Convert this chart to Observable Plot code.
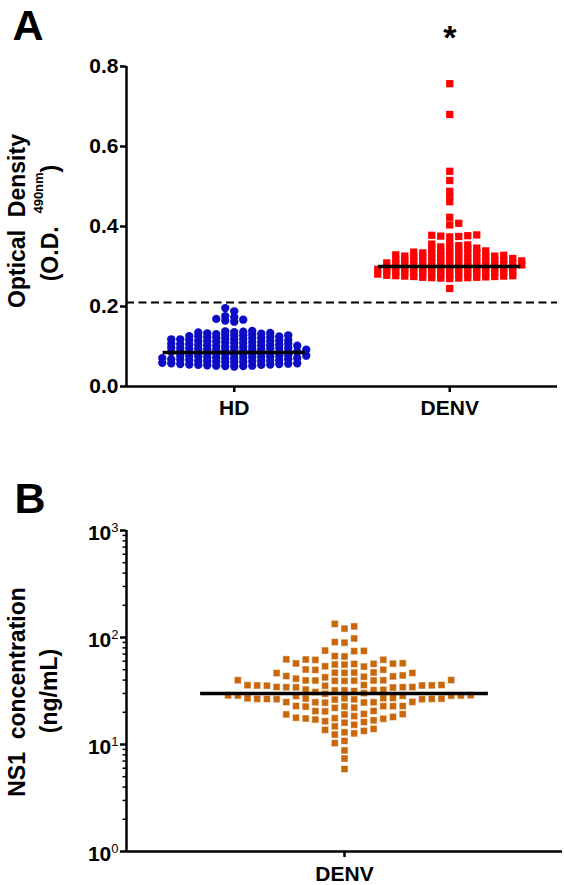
<!DOCTYPE html>
<html><head><meta charset="utf-8">
<script src="https://cdn.jsdelivr.net/npm/d3@7"></script>
<script src="https://cdn.jsdelivr.net/npm/@observablehq/plot@0.6"></script>
<style>
body{margin:0;background:#fff;}
#chart{width:564px;}
svg{display:block;}
</style></head><body><div id="chart"></div>
<script>
// ---------- Panel A data ----------
const groupsA = ["HD", "DENV"];
const hdValues = [
  0.050,0.051,0.052,0.053,0.054,0.055,0.056,0.057,0.058,0.059,0.052,0.054,0.056,0.058,0.051,0.055,
  0.060,0.061,0.062,0.063,0.064,0.065,0.066,0.067,0.068,0.069,0.062,0.064,0.066,0.068,0.063,
  0.070,0.071,0.072,0.073,0.074,0.075,0.076,0.077,0.078,0.079,0.071,0.073,0.075,0.077,0.072,0.076,
  0.080,0.081,0.082,0.083,0.084,0.085,0.086,0.087,0.088,0.089,0.081,0.083,0.085,0.087,0.084,
  0.090,0.091,0.092,0.093,0.094,0.095,0.096,0.097,0.098,0.099,0.091,0.093,0.095,0.097,0.092,0.096,
  0.100,0.101,0.102,0.103,0.104,0.105,0.106,0.107,0.108,0.109,0.101,0.103,0.105,0.107,0.104,
  0.110,0.111,0.112,0.113,0.114,0.115,0.116,0.117,0.118,0.119,0.112,0.114,0.116,0.118,
  0.120,0.121,0.122,0.123,0.124,0.125,0.126,0.127,0.128,0.129,0.122,0.125,0.128,
  0.130,0.131,0.132,0.133,0.134,0.135,0.136,0.137,0.138,0.139,
  0.162,0.165,0.167,0.169,0.173,0.176,0.188,0.196
];
const denvValues = [
  0.245,
  0.270,0.271,0.272,0.273,0.274,0.275,0.276,0.277,0.278,0.279,0.271,0.273,0.275,0.277,0.272,0.276,
  0.280,0.281,0.282,0.283,0.284,0.285,0.286,0.287,0.288,0.289,0.281,0.283,0.285,0.287,0.282,0.286,
  0.290,0.291,0.292,0.293,0.294,0.295,0.296,0.297,0.298,0.299,0.291,0.293,0.295,0.297,0.292,0.296,
  0.300,0.301,0.302,0.303,0.304,0.305,0.306,0.307,0.308,0.309,0.301,0.303,0.305,0.307,0.302,0.306,
  0.310,0.311,0.312,0.313,0.314,0.315,0.316,0.317,0.318,0.319,0.311,0.313,0.315,0.317,0.314,
  0.320,0.321,0.322,0.323,0.324,0.325,0.326,0.327,0.328,0.329,0.322,0.324,0.326,0.328,
  0.331,0.332,0.333,0.334,0.335,0.336,0.337,0.338,0.339,
  0.341,0.343,0.345,0.346,0.348,0.349,
  0.352,0.354,0.356,0.358,
  0.374,0.375,0.376,0.377,0.378,0.379,
  0.404,0.408,0.423,0.462,0.475,0.488,0.515,0.538,0.680,0.757
];
const mediansA = [0.085, 0.30];
const cutoffA = 0.21;
const ticksA = [0, 0.2, 0.4, 0.6, 0.8];
const sigLabels = [{group: "DENV", label: "*"}];

// ---------- Panel B data ----------
const groupsB = ["DENV"];
const ns1Values = [
  5.9, 7.4, 8.8, 10.3, 10.8,
  12.4, 12.7, 13.0, 13.4, 13.7, 14.0, 14.8, 15.3,
  16.0, 16.2, 16.5, 16.8, 17.1, 17.4, 17.5, 17.6, 17.8, 18.1, 18.4,
  19.1, 19.1, 19.2, 19.3, 20.4, 20.5, 20.6,
  22.0, 22.1, 22.6, 22.7, 22.8, 22.8, 22.9, 22.9,
  24.6, 24.7, 24.8, 24.8, 24.9, 25.0,
  26.3, 26.4, 26.5, 26.5, 26.6, 26.7, 26.7, 26.8, 26.9, 27.0, 27.0, 27.1, 27.2,
  28.4, 28.5, 28.6, 28.7, 28.7, 28.8, 28.9, 29.8,
  30.2, 31.0, 31.6, 32.0, 32.1, 32.2, 32.4, 32.6,
  34.1, 34.2, 34.3, 34.3, 34.4, 34.5, 35.4, 35.5, 35.6, 35.6, 35.7, 35.8, 35.9, 36.0,
  39.3, 39.4, 39.5, 39.6, 39.6, 39.7, 39.8, 39.9, 40.0,
  41.2, 42.4, 43.0, 43.3, 43.6, 44.2,
  46.5, 46.6, 46.8, 46.9, 47.0, 47.1,
  49.8, 50.0, 50.2,
  53.5, 53.8, 55.8, 56.0, 56.6, 56.8, 57.0, 57.2, 57.4,
  61.8, 62.0, 62.3, 62.5,
  66.5, 67.0,
  74.5, 75.0, 75.5,
  89.5, 90.5, 98,
  121, 127, 134
];
const medianB = 30;
const ticksB = [1, 10, 100, 1000];

const FONT = "'Liberation Sans', Arial, Helvetica, sans-serif";
const COLORS = {HD: "#0c0cc4", DENV: "#ff0000", NS1: "#c8680a"};

// GraphPad-like scatter: each point goes to the column nearest the centre
// where it does not come closer than `thr` pixels (vertically) to another point.
function swarmLayout(values, group, center, step, thr, toPx) {
  const sorted = values.slice().sort(d3.ascending);
  const slots = new Map();
  const out = [];
  sorted.forEach((v, n) => {
    const p = toPx(v);
    const side = n % 2 ? -1 : 1;
    for (let k = 0; k < 1000; k++) {
      const j = k === 0 ? 0 : (k % 2 ? side * (k + 1) / 2 : -side * k / 2);
      const arr = slots.get(j) || [];
      if (arr.every(q => Math.abs(q - p) >= thr)) {
        arr.push(p); slots.set(j, arr);
        out.push({group, value: v, x: center + j * step});
        break;
      }
    }
  });
  return out;
}

const styleBase = {fontFamily: FONT, fontWeight: "bold", fontSize: "21px", color: "#000", background: "#fff"};

// ---------- Panel A ----------
const pxPerUnitXA = 215.5, pxPerUnitYA = 400;
const hd = swarmLayout(hdValues, "HD", 1, 9 / pxPerUnitXA, 3.6, v => v * pxPerUnitYA);
const denv = swarmLayout(denvValues, "DENV", 2, 9 / pxPerUnitXA, 3.6, v => v * pxPerUnitYA);
const medA = groupsA.map((g, i) => ({group: g, pos: i + 1, value: mediansA[i]}));

const plotA = Plot.plot({
  width: 564, height: 420,
  marginLeft: 126, marginRight: 7, marginTop: 66, marginBottom: 34,
  style: styleBase,
  x: {domain: [0.5, 2.5]},
  y: {domain: [0, 0.8]},
  marks: [
    Plot.ruleY([cutoffA], {stroke: "#000", strokeWidth: 2, strokeDasharray: "8,4.5"}),
    Plot.dot(hd, {x: "x", y: "value", r: 4.15, fill: COLORS.HD}),
    Plot.dot(denv, {x: "x", y: "value", r: 4.1, symbol: "square", fill: COLORS.DENV}),
    Plot.ruleY(medA, {y: "value", x1: d => d.pos - 0.33, x2: d => d.pos + 0.33, stroke: "#000", strokeWidth: 3.5}),
    Plot.ruleX([0.5], {stroke: "#000", strokeWidth: 2.5}),
    Plot.ruleY([0], {stroke: "#000", strokeWidth: 2.5}),
    Plot.axisY({ticks: ticksA, tickFormat: d3.format(".1f"), tickSize: 6, tickPadding: 2, strokeWidth: 2.5, label: null}),
    Plot.axisX({ticks: [1, 2], tickFormat: d => groupsA[d - 1], tickSize: 6, tickPadding: 8, strokeWidth: 2.5, label: null}),
    Plot.text(sigLabels, {x: d => groupsA.indexOf(d.group) + 1, frameAnchor: "top", text: "label", fontSize: 34, lineAnchor: "middle", dy: -28})
  ]
});

// ---------- Panel B ----------
const pxPerUnitXB = 218, pxPerDecadeB = 107;
const ns1 = swarmLayout(ns1Values, "DENV", 0, 9.7 / pxPerUnitXB, 8, v => Math.log10(v) * pxPerDecadeB);
const minorB = [2,3,4,5,6,7,8,9,20,30,40,50,60,70,80,90,200,300,400,500,600,700,800,900];

const plotB = Plot.plot({
  width: 564, height: 465,
  marginLeft: 126, marginRight: 2, marginTop: 110, marginBottom: 34,
  style: styleBase,
  x: {domain: [-1, 1]},
  y: {type: "log", domain: [1, 1000]},
  marks: [
    Plot.dot(ns1, {x: "x", y: "value", r: 3.95, symbol: "square", fill: COLORS.NS1, stroke: "#fff", strokeWidth: 0.5}),
    Plot.ruleY([medianB], {x1: () => -0.66, x2: () => 0.66, stroke: "#000", strokeWidth: 3.5}),
    Plot.ruleX([-1], {stroke: "#000", strokeWidth: 2.5}),
    Plot.ruleY([1], {stroke: "#000", strokeWidth: 2.5}),
    Plot.axisY({ticks: minorB, tickSize: 3.5, tickFormat: () => "", strokeWidth: 1.5, label: null}),
    Plot.axisY({ticks: ticksB, tickSize: 6, tickPadding: 2, tickFormat: d => "10" + Math.round(Math.log10(d)), strokeWidth: 2.5, label: null}),
    Plot.axisX({ticks: [0], tickFormat: () => groupsB[0], tickSize: 6, tickPadding: 9, strokeWidth: 2.5, label: null})
  ]
});

const chart = document.getElementById("chart");
chart.appendChild(plotA);
chart.appendChild(plotB);

// ---------- Titles / labels ----------
const svgA = d3.select(plotA);
svgA.append("text").attr("x", 28).attr("y", 40).attr("font-size", 43).attr("font-weight", "bold").text("A");
svgA.append("text").attr("transform", "translate(25,221) rotate(-90)").attr("text-anchor", "middle")
  .attr("font-size", 23).attr("font-weight", "bold").style("white-space", "pre").text("Optical  Density");
const tA2 = svgA.append("text").attr("transform", "translate(58,223) rotate(-90)").attr("text-anchor", "middle")
  .attr("font-size", 23).attr("font-weight", "bold").style("white-space", "pre");
tA2.append("tspan").text("(O.D.  ");
tA2.append("tspan").attr("font-size", 13).attr("dy", -15).text("490nm");
tA2.append("tspan").attr("dy", 15).text(")");

const svgB = d3.select(plotB);
svgB.append("text").attr("x", 30).attr("y", 93).attr("font-size", 43).attr("font-weight", "bold").text("B");
svgB.append("text").attr("transform", "translate(25,272) rotate(-90)").attr("text-anchor", "middle")
  .attr("font-size", 23).attr("font-weight", "bold").style("white-space", "pre").text("NS1  concentration");
svgB.append("text").attr("transform", "translate(57,271) rotate(-90)").attr("text-anchor", "middle")
  .attr("font-size", 23).attr("font-weight", "bold").text("(ng/mL)");

// superscript exponents for log tick labels
svgB.selectAll('[aria-label="y-axis tick label"] text').each(function () {
  const m = /^10(\d)$/.exec(this.textContent);
  if (m) {
    this.textContent = "";
    const t = d3.select(this);
    t.append("tspan").attr("dy", 3).text("10");
    t.append("tspan").attr("font-size", 13).attr("font-weight", "normal").attr("dy", -8).text(m[1]);
  }
});
</script>
</body></html>
